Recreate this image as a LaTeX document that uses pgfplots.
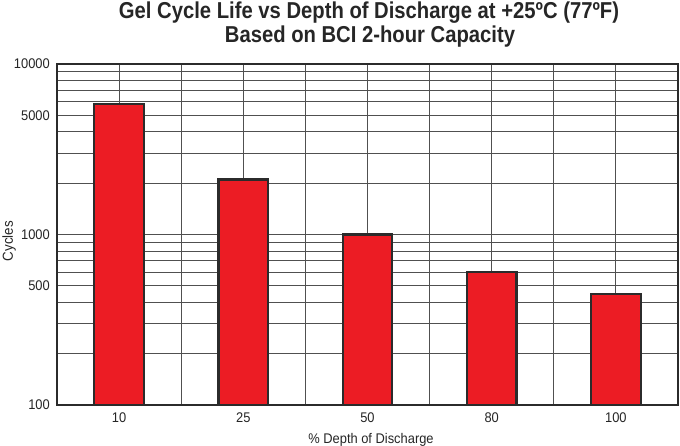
\documentclass[border=0pt]{standalone}
\usepackage{fontspec}
\setmainfont{Liberation Sans}[FakeStretch=0.92]
\newfontfamily\titlefont{Liberation Sans Bold}[FakeStretch=0.88]
\usepackage{pgfplots}
\pgfplotsset{compat=1.18}

\definecolor{barred}{HTML}{EC1C24}
\definecolor{barline}{HTML}{2B2B2B}
\definecolor{gridgray}{HTML}{505050}

\begin{document}
\begin{tikzpicture}
\begin{axis}[
    scale only axis,
    width=621bp,
    height=341bp,
    ymode=log,
    log origin y=infty,
    ymin=100, ymax=10000,
    xmin=-0.5, xmax=4.5,
    ybar,
    bar width=0.4,
    xtick={0,1,2,3,4},
    xticklabels={10,25,50,80,100},
    minor xtick={0.5,1.5,2.5,3.5},
    ytick={100,500,1000,5000,10000},
    yticklabels={100,500,1000,5000,10000},
    minor ytick={200,300,400,600,700,800,900,2000,3000,4000,6000,7000,8000,9000},
    xmajorgrids, xminorgrids, ymajorgrids, yminorgrids,
    grid style={gridgray, line width=1bp},
    minor grid style={gridgray, line width=1bp},
    major tick length=0pt, minor tick length=0pt,
    axis line style={barline, line width=2.6bp},
    /pgf/number format/assume math mode=true,
    tick label style={font=\fontsize{14bp}{16bp}\selectfont, text=black!85},
    xticklabel style={anchor=base, inner sep=0pt, yshift=-18bp},
    yticklabel style={anchor=east, inner sep=0pt, xshift=-7bp},
    clip=true,
]
\addplot[fill=barred, draw=barline, line width=2.2bp] coordinates {
    (0,5800) (1,2100) (2,1000) (3,600) (4,450)
};
\coordinate (O) at (rel axis cs:0,0);
\coordinate (T) at (rel axis cs:0,1);
\end{axis}
\node[anchor=base, inner sep=0pt, font=\titlefont\fontsize{23bp}{26bp}\selectfont, text=black!85]
    at ([xshift=312bp, yshift=45bp]T) {Gel Cycle Life vs Depth of Discharge at +25ºC (77ºF)};
\node[anchor=base, inner sep=0pt, font=\titlefont\fontsize{23bp}{26bp}\selectfont, text=black!85]
    at ([xshift=313bp, yshift=21bp]T) {Based on BCI 2-hour Capacity};
\node[anchor=base, rotate=90, inner sep=0pt, font=\fontsize{14.5bp}{16bp}\selectfont, text=black!85]
    at ([xshift=-44bp, yshift=164bp]O) {Cycles};
\node[anchor=base, inner sep=0pt, font=\fontsize{14bp}{16bp}\selectfont, text=black!85]
    at ([xshift=314bp, yshift=-38bp]O) {\% Depth of Discharge};
\pgfresetboundingbox
\path (O) ++(-57bp,-41bp) rectangle ++(680bp,446bp);
\end{tikzpicture}
\end{document}
